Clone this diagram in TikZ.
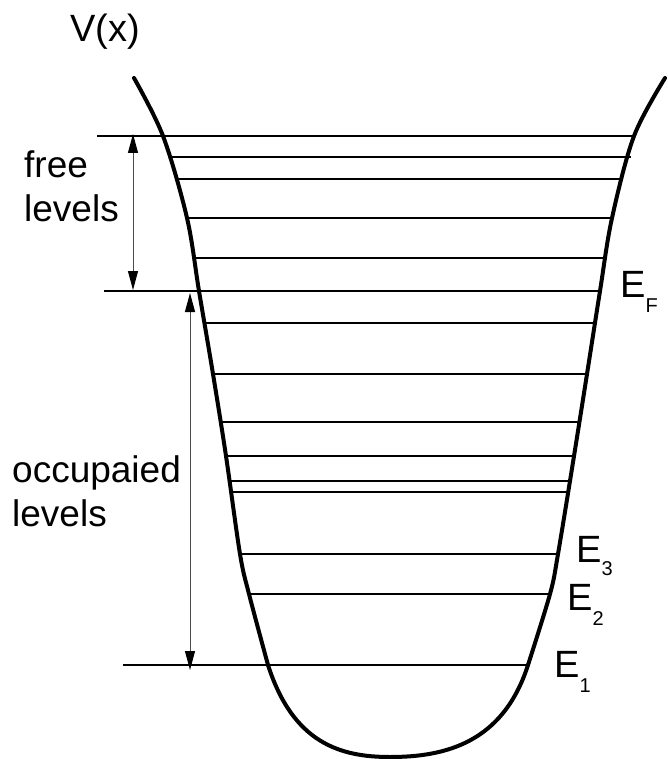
\documentclass[tikz,border=0pt]{standalone}
\usepackage{fontspec}
\setmainfont{Liberation Sans}
\usetikzlibrary{arrows.meta}
\begin{document}
\begin{tikzpicture}[x=1pt,y=-1pt,
  lvl/.style={line width=1.2pt},
  well/.style={line width=4pt,line cap=round},
  span/.style={{Triangle[length=19pt,width=10pt,color=black]}-{Triangle[length=19pt,width=10pt,color=black]},draw=black!70,line width=1pt},
  lab/.style={inner sep=0pt,font=\fontsize{37}{44}\selectfont,align=left,anchor=north west},
  en/.style={inner sep=0pt,font=\fontsize{38}{38}\selectfont,anchor=base west}]
\useasboundingbox (0,0) rectangle (667,759);
\draw[well] plot[smooth,tension=0.55] coordinates {(134,78) (163,136) (187,218) (199,291) (213,374) (226,456) (240,554) (249,594) (268,665)};
\draw[well] (268,665) .. controls (293,743) and (340,757) .. (390,757) .. controls (445,757) and (503,743) .. (528,665);
\draw[well] plot[smooth,tension=0.55] coordinates {(528,665) (550,594) (558,554) (574,456) (587,374) (600,291) (612,218) (634,136) (665,78)};
\foreach \y/\xa/\xb in {157/172/631, 179/178/622, 218/187/612, 258/195/603, 323/205/594, 374/212/587, 422/219/579, 456/225/574, 481/229/571, 492/232/568, 554/240/558, 594/249/550}
  \draw[lvl] (\xa,\y) -- (\xb,\y);
\draw[lvl] (97,136) -- (634,136);
\draw[line width=2pt] (104,291) -- (600,291);
\draw[lvl] (123,665) -- (528,665);
\coordinate (free top) at (133,134);
\coordinate (free bottom) at (133,290);
\coordinate (occ top) at (190,293);
\coordinate (occ bottom) at (190,670);
\draw[span] (free top) -- (free bottom);
\draw[span] (occ top) -- (occ bottom);
\node[en] (vx) at (70,42) {V(x)};
\node[lab] (free) at (24,151) {free\\levels};
\node[lab] (occ) at (12,455) {occupaied\\levels};
\node[en] (ef) at (620,297) {E\raisebox{-15pt}{\fontsize{20}{20}\selectfont F}};
\node[en] (e3) at (576,562) {E\raisebox{-13pt}{\fontsize{20}{20}\selectfont 3}};
\node[en] (e2) at (567,610) {E\raisebox{-15pt}{\fontsize{20}{20}\selectfont 2}};
\node[en] (e1) at (554,677) {E\raisebox{-15pt}{\fontsize{20}{20}\selectfont 1}};
\end{tikzpicture}
\end{document}
